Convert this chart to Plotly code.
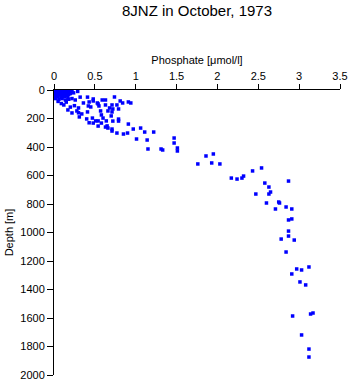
import plotly.graph_objects as go

# Phosphate [umol/l] and depth [m]
phosphate = [
    # surface cluster 0-50 m
    0.00, 0.01, 0.02, 0.03, 0.04, 0.05, 0.06, 0.07, 0.08, 0.09, 0.10, 0.11, 0.12, 0.13,
    0.14, 0.15, 0.16, 0.17, 0.18, 0.19, 0.20, 0.21, 0.22, 0.00, 0.02, 0.04, 0.06, 0.08,
    0.10, 0.12, 0.14, 0.16, 0.18, 0.20, 0.01, 0.05, 0.09, 0.13, 0.17, 0.29, 0.24,
    # 40-110 m
    0.02, 0.06, 0.10, 0.14, 0.18, 0.22, 0.26, 0.32, 0.41, 0.48, 0.36, 0.43, 0.48, 0.53,
    0.59, 0.63, 0.55, 0.74, 0.81, 0.84, 0.91, 0.94, 0.71, 0.77, 0.63, 0.54,
    # 80-190 m
    0.17, 0.22, 0.28, 0.30, 0.34, 0.41, 0.20, 0.25, 0.12, 0.05, 0.09, 0.15, 0.42, 0.57,
    0.58, 0.68, 0.72, 0.79, 0.66, 0.70, 0.71, 0.45, 0.30,
    # 190-240 m
    0.31, 0.40, 0.47, 0.51, 0.54, 0.60, 0.72, 0.64, 0.58, 0.65, 0.79, 0.79, 0.91, 0.48, 0.43,
    # 250-430 m
    0.54, 0.63, 0.66, 0.71, 0.71, 0.77, 0.85, 0.90, 0.97, 1.06, 1.11, 1.22, 1.01, 1.14,
    1.47, 1.47, 1.51, 1.51, 1.15, 1.31,
    # deep
    1.33, 1.86, 1.95, 1.76, 1.93, 2.03, 2.17, 2.24, 2.30, 2.32, 2.43, 2.54, 2.58, 2.63,
    2.47, 2.63, 2.65, 2.60, 2.75, 2.76, 2.71, 2.87, 2.84, 2.91, 2.87, 2.91, 2.87, 2.87,
    2.78, 2.94, 2.84, 2.97, 3.03, 3.12, 2.91, 3.01, 3.08, 2.92, 3.17, 3.14, 3.03, 3.12, 3.12,
]
depth = [
    0, 10, 0, 20, 5, 15, 0, 25, 10, 0, 20, 5, 15, 0,
    25, 10, 0, 20, 5, 15, 0, 10, 5, 35, 30, 40, 30, 35,
    40, 30, 35, 40, 30, 25, 50, 45, 55, 45, 50, 10, 20,
    60, 65, 60, 70, 65, 60, 70, 50, 50, 63, 91, 84, 77, 91,
    70, 70, 112, 49, 77, 91, 84, 91, 105, 105, 105, 98,
    140, 161, 147, 160, 168, 154, 120, 110, 105, 80, 95, 85, 112, 147,
    175, 126, 133, 133, 147, 182, 154, 119, 126,
    189, 203, 197, 217, 217, 197, 218, 217, 232, 252, 204, 218, 239, 232, 230,
    253, 260, 267, 274, 288, 302, 309, 302, 274, 267, 295, 295, 344, 351,
    337, 372, 407, 428, 414, 414,
    421, 463, 449, 519, 512, 519, 618, 625, 618, 604, 568, 547, 653, 681,
    730, 730, 716, 793, 786, 793, 835, 639, 821, 835, 912, 905, 990, 1025,
    1046, 1053, 1137, 1256, 1263, 1242, 1291, 1347, 1368, 1586, 1565, 1572, 1719, 1818, 1874,
]

x_ticks = [0, 0.5, 1, 1.5, 2, 2.5, 3, 3.5]
x_tick_labels = ["0", "0.5", "1", "1.5", "2", "2.5", "3", "3.5"]
y_ticks = [0, 200, 400, 600, 800, 1000, 1200, 1400, 1600, 1800, 2000]

font_family = "Liberation Sans, Arial, Helvetica, sans-serif"

fig = go.Figure(
    go.Scatter(
        x=phosphate,
        y=depth,
        mode="markers",
        marker=dict(symbol="square", size=3.5, color="#0000ff", line=dict(width=0)),
        hoverinfo="skip",
    )
)

fig.update_layout(
    width=350,
    height=384,
    margin=dict(l=54, r=10, t=90, b=9),
    paper_bgcolor="white",
    plot_bgcolor="white",
    showlegend=False,
    font=dict(family=font_family, color="black", size=11),
    title=dict(
        text="8JNZ in October, 1973",
        font=dict(size=15, family=font_family, color="black"),
        xref="paper", x=0.5, xanchor="center",
        yref="container", y=1 - 11 / 384, yanchor="middle",
    ),
)

fig.update_xaxes(
    side="top",
    range=[0, 3.5],
    tickvals=x_ticks,
    ticktext=x_tick_labels,
    ticks="outside",
    ticklen=5,
    tickcolor="black",
    showline=True,
    linecolor="black",
    linewidth=1,
    showgrid=False,
    zeroline=False,
    automargin=False,
    title=dict(text="Phosphate [μmol/l]", font=dict(size=11), standoff=2),
)

fig.update_yaxes(
    range=[2000, 0],
    tickvals=y_ticks,
    ticks="outside",
    ticklen=6,
    tickcolor="black",
    showline=True,
    linecolor="black",
    linewidth=1,
    showgrid=False,
    zeroline=False,
    automargin=False,
    title=dict(text="Depth [m]", font=dict(size=11), standoff=4),
)

fig.write_html("out.html")
